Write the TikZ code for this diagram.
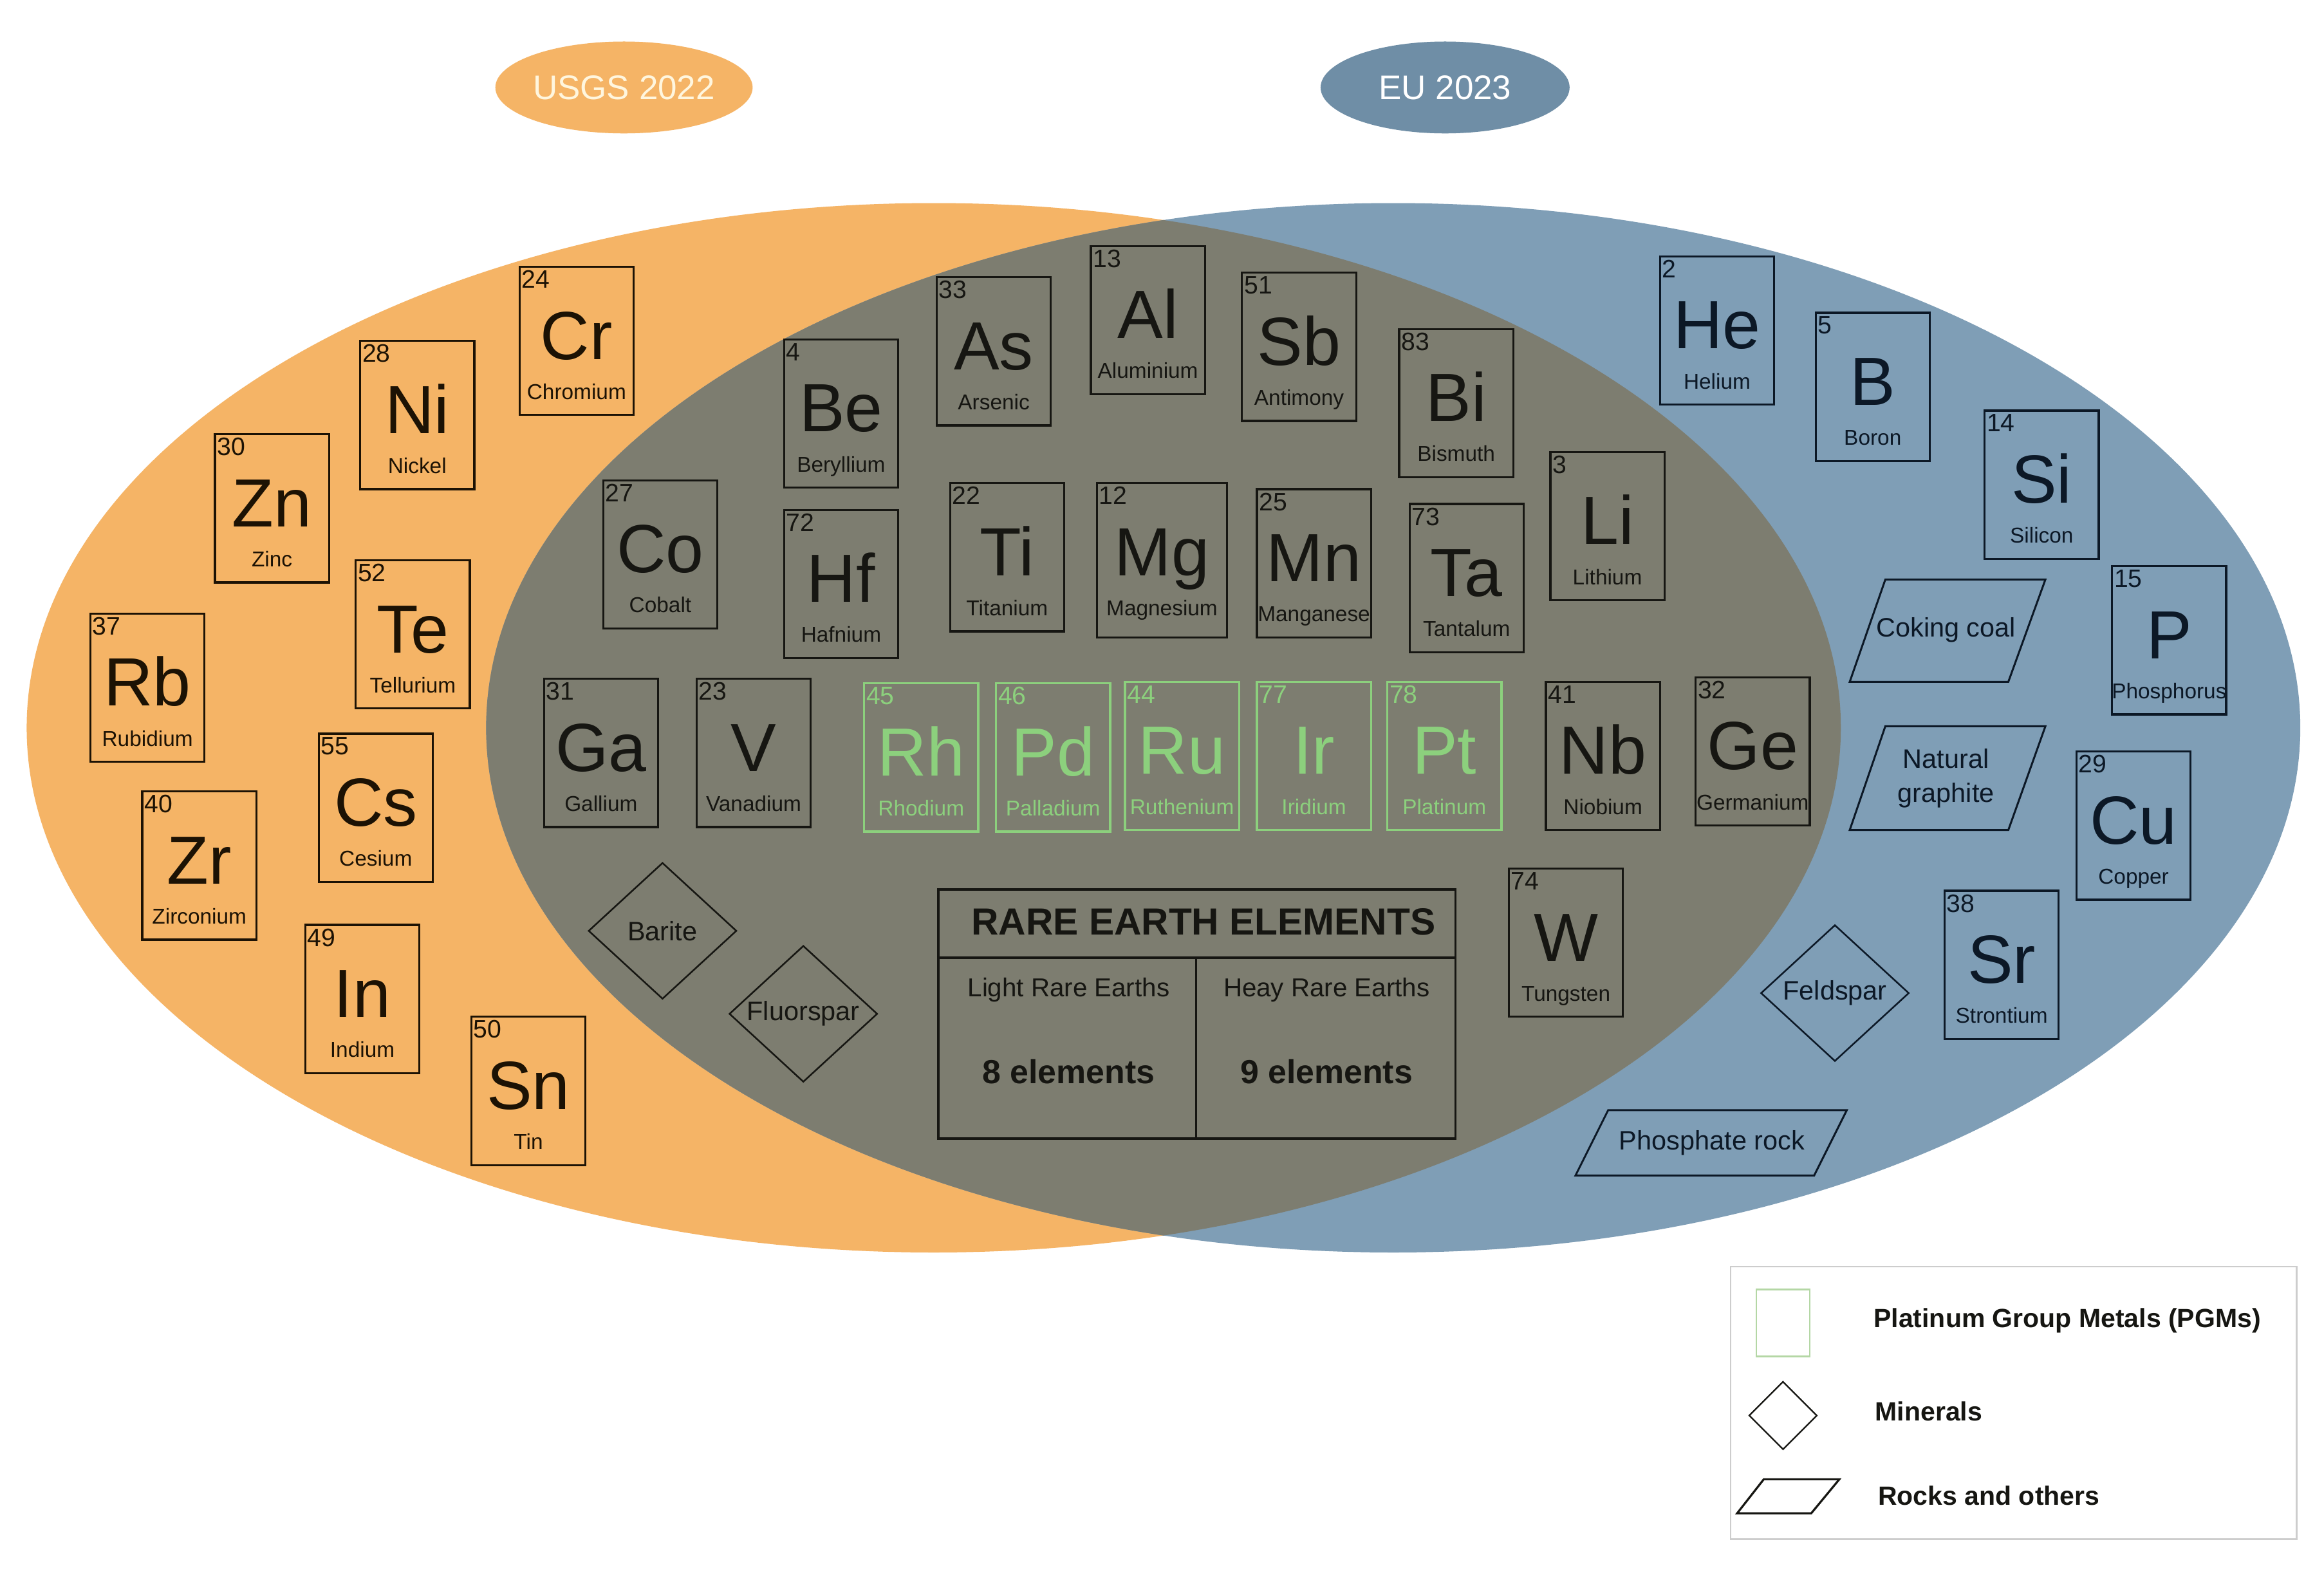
\documentclass[tikz,border=0pt]{standalone}
\usepackage{fontspec}
\setmainfont{Liberation Sans}
\usetikzlibrary{shapes.geometric}
\definecolor{orangeC}{RGB}{245,180,102}
\definecolor{blueC}{RGB}{127,158,182}
\definecolor{greyC}{RGB}{125,125,112}
\definecolor{euC}{RGB}{111,142,166}
\definecolor{pgm}{RGB}{140,208,125}
\definecolor{pgmlight}{RGB}{180,215,165}
\definecolor{inkO}{RGB}{28,18,4}
\definecolor{inkG}{RGB}{22,22,18}
\definecolor{inkB}{RGB}{12,24,38}
\colorlet{ink}{inkG}
\definecolor{cream}{RGB}{255,246,222}
\definecolor{legendgrey}{RGB}{205,205,205}
\newcommand{\symfnt}{\fontsize{46pt}{50pt}\selectfont}
\newcommand{\numfnt}{\fontsize{17pt}{19pt}\selectfont}
\newcommand{\namefnt}{\fontsize{14.5pt}{16pt}\selectfont}
\newcommand{\elembase}[8]{%
  \node[elbox, draw=#1, #2] (#3) at (#4,#5) {};
  \node[eltext, text=#1, font=\numfnt, anchor=north west] (#3-num) at ([xshift=2pt,yshift=-3pt]#3.north west) {#6};
  \node[eltext, text=#1, font=\symfnt, anchor=base] (#3-sym) at ([yshift=-63pt]#3.north) {#7};
  \node[eltext, text=#1, font=\namefnt, anchor=base] (#3-name) at ([yshift=-90pt]#3.north) {#8};
}
\newcommand{\elem}[7][]{\elembase{ink}{#1}{#2}{#3}{#4}{#5}{#6}{#7}}
\newcommand{\pgmelem}[6]{\elembase{pgm}{}{#1}{#2}{#3}{#4}{#5}{#6}}
\tikzset{
  elbox/.style={rectangle, line width=1.4pt, minimum width=77pt, minimum height=100pt, inner sep=0pt},
  eltext/.style={inner sep=0pt},
  mineral/.style={diamond, draw=ink, line width=1.1pt, minimum width=100pt, minimum height=92pt, inner sep=0pt},
  rock/.style={draw=ink, line width=1.3pt, line join=miter},
  shapetext/.style={inner sep=0pt, text=ink, font=\fontsize{18pt}{21pt}\selectfont, align=center},
  reetxt/.style={inner sep=0pt, text=ink, font=\fontsize{17.5pt}{20pt}\selectfont},
  reebold/.style={inner sep=0pt, text=ink, font=\bfseries\fontsize{22.5pt}{25pt}\selectfont},
  legtext/.style={inner sep=0pt, anchor=west, text=ink, font=\bfseries\fontsize{17.8pt}{20pt}\selectfont},
  tag/.style={ellipse, minimum width=168pt, minimum height=62pt, inner sep=0pt, font=\fontsize{23pt}{26pt}\selectfont}
}
\begin{document}
\begin{tikzpicture}[x=1pt, y=-1pt]
\useasboundingbox (0,0) rectangle (1568,1061);
\fill[white] (0,0) rectangle (1568,1061);
% Venn sets
\fill[orangeC] (630,491) ellipse [x radius=612, y radius=354];
\fill[blueC] (940,491) ellipse [x radius=612, y radius=354];
\begin{scope}
  \clip (630,491) ellipse [x radius=612, y radius=354];
  \fill[greyC] (940,491) ellipse [x radius=612, y radius=354];
\end{scope}
% tags
\node[tag, fill=orangeC, text=cream] (usgs) at (421,59) {USGS 2022};
\node[tag, fill=euC, text=white] (eu) at (975,59) {EU 2023};
% USGS only
\colorlet{ink}{inkO}
\elem{Cr}{389}{230}{24}{Cr}{Chromium}
\elem{Ni}{281.5}{280}{28}{Ni}{Nickel}
\elem{Zn}{183.5}{343}{30}{Zn}{Zinc}
\elem{Te}{278.5}{428}{52}{Te}{Tellurium}
\elem{Rb}{99.5}{464}{37}{Rb}{Rubidium}
\elem{Cs}{253.5}{545}{55}{Cs}{Cesium}
\elem{Zr}{134.5}{584}{40}{Zr}{Zirconium}
\elem{In}{244.5}{674}{49}{In}{Indium}
\elem{Sn}{356.5}{736}{50}{Sn}{Tin}
% both
\colorlet{ink}{inkG}
\elem{Be}{567.5}{279}{4}{Be}{Beryllium}
\elem{As}{670.5}{237}{33}{As}{Arsenic}
\elem{Al}{774.5}{216}{13}{Al}{Aluminium}
\elem{Sb}{876.5}{234}{51}{Sb}{Antimony}
\elem{Bi}{982.5}{272}{83}{Bi}{Bismuth}
\elem{Co}{445.5}{374}{27}{Co}{Cobalt}
\elem{Hf}{567.5}{394}{72}{Hf}{Hafnium}
\elem{Ti}{679.5}{376}{22}{Ti}{Titanium}
\elem[minimum width=88pt, minimum height=104pt]{Mg}{784}{378}{12}{Mg}{Magnesium}
\elem{Mn}{886.5}{380}{25}{Mn}{Manganese}
\elem{Ta}{989.5}{390}{73}{Ta}{Tantalum}
\elem{Li}{1084.5}{355}{3}{Li}{Lithium}
\elem{Ga}{405.5}{508}{31}{Ga}{Gallium}
\elem{V}{508.5}{508}{23}{V}{Vanadium}
\pgmelem{Rh}{621.5}{511}{45}{Rh}{Rhodium}
\pgmelem{Pd}{710.5}{511}{46}{Pd}{Palladium}
\pgmelem{Ru}{797.5}{510}{44}{Ru}{Ruthenium}
\pgmelem{Ir}{886.5}{510}{77}{Ir}{Iridium}
\pgmelem{Pt}{974.5}{510}{78}{Pt}{Platinum}
\elem{Nb}{1081.5}{510}{41}{Nb}{Niobium}
\elem{Ge}{1182.5}{507}{32}{Ge}{Germanium}
\elem{W}{1056.5}{636}{74}{W}{Tungsten}
\node[mineral] (barite) at (447,628) {};
\node[shapetext] (barite-t) at (barite) {Barite};
\node[mineral] (fluorspar) at (542,684) {};
\node[shapetext] (fluorspar-t) at (fluorspar) {Fluorspar};
% REE table
\node[draw=ink, line width=1.6pt, minimum width=349pt, minimum height=168pt, inner sep=0pt] (ree) at (807.5,684) {};
\coordinate (reeline) at (807,646);
\coordinate (reemid) at (807,646);
\draw[ink, line width=1.6pt] (ree.west |- reeline) -- (ree.east |- reeline);
\draw[ink, line width=1.6pt] (reemid) -- (reemid |- ree.south);
\node[inner sep=0pt, text=ink, font=\bfseries\fontsize{25.5pt}{28pt}\selectfont] (ree-title) at (812,622) {RARE EARTH ELEMENTS};
\node[reetxt] (lre) at (721,668) {Light Rare Earths};
\node[reetxt] (hre) at (895,668) {Heay Rare Earths};
\node[reebold] (lre-n) at (721,723) {8 elements};
\node[reebold] (hre-n) at (895,723) {9 elements};
% EU only
\colorlet{ink}{inkB}
\elem{He}{1158.5}{223}{2}{He}{Helium}
\elem{B}{1263.5}{261}{5}{B}{Boron}
\elem{Si}{1377.5}{327}{14}{Si}{Silicon}
\elem{P}{1463.5}{432}{15}{P}{Phosphorus}
\elem{Cu}{1439.5}{557}{29}{Cu}{Copper}
\elem{Sr}{1350.5}{651}{38}{Sr}{Strontium}
\draw[rock] (1272,391) -- (1380,391) -- (1355,460) -- (1248,460) -- cycle;
\node[shapetext] (coking) at (1313,425) {Coking coal};
\draw[rock] (1272,490) -- (1380,490) -- (1355,560) -- (1248,560) -- cycle;
\node[shapetext, font=\fontsize{18pt}{23pt}\selectfont] (graphite) at (1313,525) {Natural\\graphite};
\draw[rock] (1085,749) -- (1246,749) -- (1224,793) -- (1063,793) -- cycle;
\node[shapetext] (phosphate) at (1155,771) {Phosphate rock};
\node[mineral] (feldspar) at (1238,670) {};
\node[shapetext] (feldspar-t) at (feldspar) {Feldspar};
% legend
\colorlet{ink}{inkG}
\node[draw=legendgrey, fill=white, line width=1pt, minimum width=382pt, minimum height=184pt, inner sep=0pt, anchor=north west] (legend) at (1167,854) {};
\node[draw=pgmlight, line width=1.2pt, minimum width=36pt, minimum height=45pt, inner sep=0pt] (lg-pgm) at (1203,892.5) {};
\node[diamond, draw=ink, line width=1pt, minimum width=46pt, minimum height=46pt, inner sep=0pt] (lg-min) at (1203,955) {};
\draw[rock, line width=1.4pt] (1190,998) -- (1241,998) -- (1222,1021) -- (1172,1021) -- cycle;
\node[legtext] (lg-pgm-t) at (1264,891) {Platinum Group Metals (PGMs)};
\node[legtext] (lg-min-t) at (1265,952) {Minerals};
\node[legtext] (lg-rock-t) at (1267,1009) {Rocks and others};
\end{tikzpicture}
\end{document}
